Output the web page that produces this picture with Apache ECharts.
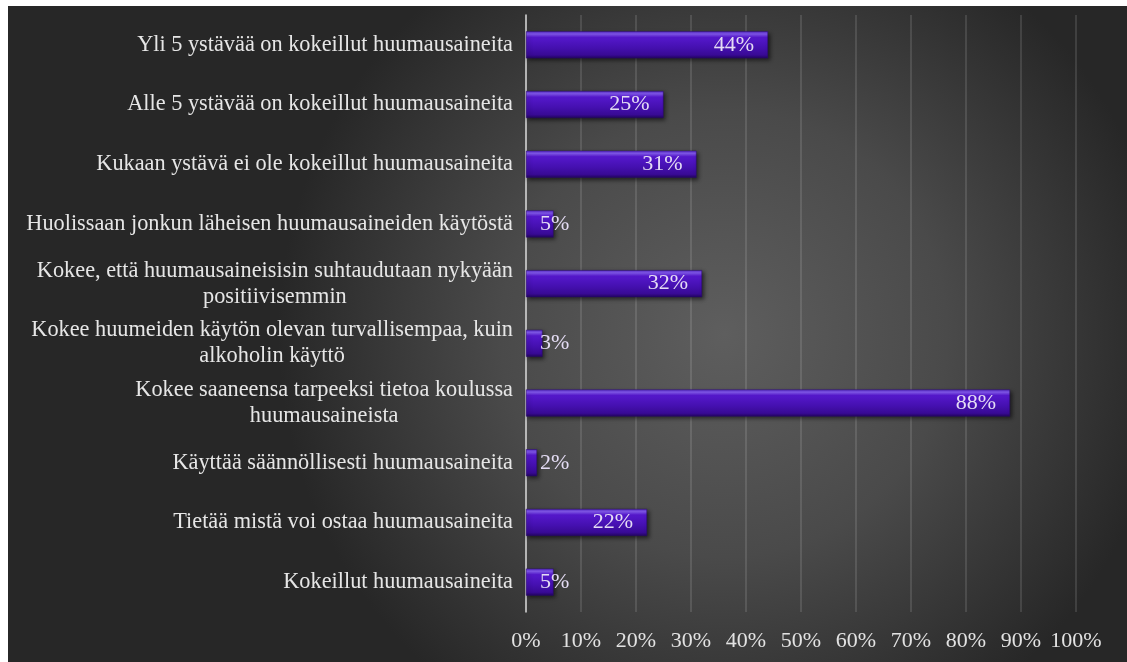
<!DOCTYPE html>
<html>
<head>
<meta charset="utf-8">
<script src="https://cdn.jsdelivr.net/npm/echarts@6/dist/echarts.min.js"></script>
<style>
html,body{margin:0;padding:0;background:#ffffff;width:1127px;height:662px;overflow:hidden;}
#chart{position:absolute;left:8px;top:6px;width:1119px;height:656px;}
</style>
</head>
<body>
<div id="chart"></div>
<script>
const categories = [
  "Yli 5 ystävää on kokeillut huumausaineita",
  "Alle 5 ystävää on kokeillut huumausaineita",
  "Kukaan ystävä ei ole kokeillut huumausaineita",
  "Huolissaan jonkun läheisen huumausaineiden käytöstä",
  "Kokee, että huumausaineisisin suhtaudutaan nykyään\npositiivisemmin",
  "Kokee huumeiden käytön olevan turvallisempaa, kuin\nalkoholin käyttö",
  "Kokee saaneensa tarpeeksi tietoa koulussa\nhuumausaineista",
  "Käyttää säännöllisesti huumausaineita",
  "Tietää mistä voi ostaa huumausaineita",
  "Kokeillut huumausaineita"
];
const values = [44, 25, 31, 5, 32, 3, 88, 2, 22, 5];
const tickMin = 0, tickMax = 100, tickStep = 10;

const FONT = '"Liberation Serif", "Times New Roman", serif';
const chart = echarts.init(document.getElementById('chart'), null, {renderer: 'canvas'});

const barColor = new echarts.graphic.LinearGradient(0, 0, 0, 1, [
  {offset: 0, color: '#5a2ccc'},
  {offset: 0.1, color: '#8258ee'},
  {offset: 0.22, color: '#5518cc'},
  {offset: 0.6, color: '#4510b0'},
  {offset: 0.88, color: '#380a94'},
  {offset: 1, color: '#22055e'}
]);

const seriesData = values.map(v => ({
  value: v,
  label: v < 10
    ? {position: 'insideLeft', distance: 14}
    : {position: 'insideRight', distance: 14}
}));

chart.setOption({
  backgroundColor: 'transparent',
  animation: false,
  graphic: [{
    type: 'rect', z: -10, silent: true,
    shape: {x: 0, y: 0, width: 1119, height: 656},
    style: {
      fill: new echarts.graphic.RadialGradient(0.64, 0.5, 0.68, [
        {offset: 0, color: '#5e5e5e'},
        {offset: 0.5, color: '#4a4a4a'},
        {offset: 1, color: '#272727'}
      ])
    }
  }],
  grid: {left: 518, right: 51, top: 9, bottom: 50, containLabel: false},
  xAxis: {
    type: 'value', min: tickMin, max: tickMax, interval: tickStep,
    axisLine: {show: false}, axisTick: {show: false},
    splitLine: {show: true, lineStyle: {color: 'rgba(255,255,255,0.16)', width: 1.5}},
    axisLabel: {formatter: '{value}%', color: '#e2e2e2', fontFamily: FONT, fontSize: 22, margin: 18}
  },
  yAxis: {
    type: 'category', data: categories, inverse: true,
    axisLine: {show: true, lineStyle: {color: '#d4d4d4', width: 1.5}},
    axisTick: {show: false},
    axisLabel: {
      margin: 13,
      formatter: v => v.split('\n').map(l => '{c|' + l + '}').join('\n'),
      rich: {c: {align: 'center', color: '#e6e6e6', fontFamily: FONT, fontSize: 22.3, lineHeight: 26}}
    }
  },
  series: [{
    type: 'bar', data: seriesData, barWidth: 27,
    itemStyle: {
      color: barColor, borderColor: '#2a0870', borderWidth: 0.5,
      shadowColor: 'rgba(0,0,0,0.55)', shadowBlur: 4, shadowOffsetX: 2, shadowOffsetY: 2
    },
    label: {show: true, formatter: '{c}%', color: '#e4dcf4', fontFamily: FONT, fontSize: 22}
  }]
});
</script>
</body>
</html>
